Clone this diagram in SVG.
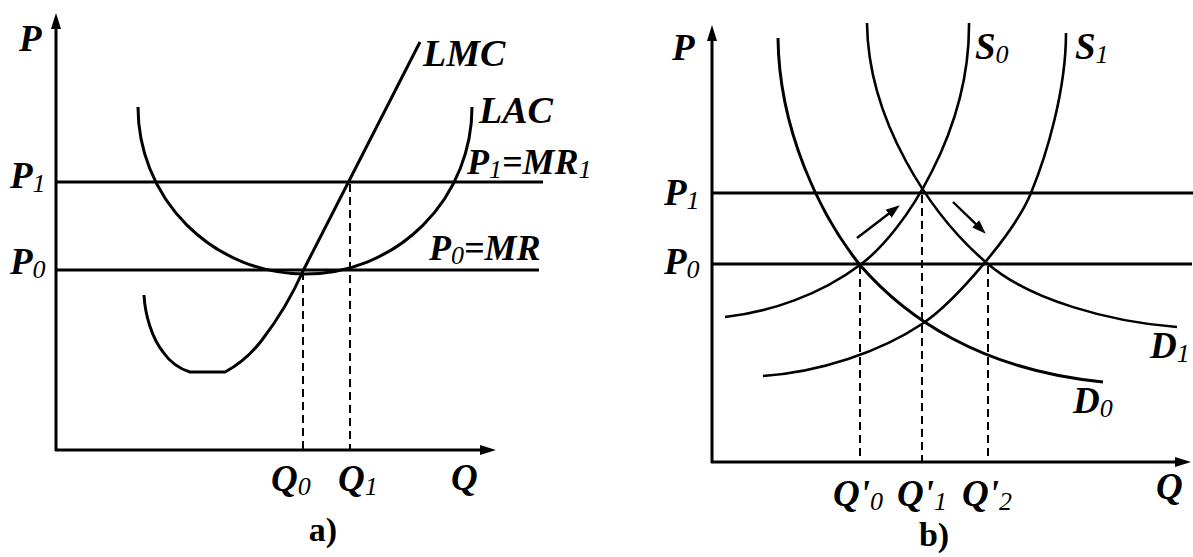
<svg xmlns="http://www.w3.org/2000/svg" width="1193" height="557" viewBox="0 0 1193 557">
<style>
.bg{fill:#fff}
.ax{stroke:#000;stroke-width:3;fill:none}
.ln{stroke:#000;stroke-width:3;fill:none}
.cv{stroke:#000;stroke-width:2.6;fill:none;stroke-linecap:butt}
.ds{stroke:#000;stroke-width:2;fill:none;stroke-dasharray:8 5}
.ar{stroke:#000;stroke-width:2.4;fill:none}
text{font-family:"Liberation Serif","Times New Roman",serif;font-style:italic;font-weight:bold;font-size:37px;fill:#000}
.sub{font-size:26px;font-weight:normal}
.cap{font-style:normal;font-weight:bold;font-size:34px}
</style>
<defs>
<marker id="axh" markerUnits="userSpaceOnUse" markerWidth="16" markerHeight="10" refX="6" refY="5" orient="auto"><path d="M0,0 L16,5 L0,10 z" fill="#000"/></marker>
<marker id="sh" markerUnits="userSpaceOnUse" markerWidth="15" markerHeight="11" refX="5" refY="5.5" orient="auto"><path d="M0,0.5 L14,5.5 L0,10.5 z" fill="#000"/></marker>
</defs>
<rect class="bg" x="0" y="0" width="1193" height="557"/>

<g id="panel-a">
 <g id="a-axes">
  <line class="ax" x1="56" y1="451" x2="56" y2="23" marker-end="url(#axh)"/>
  <line class="ax" x1="55" y1="450" x2="486" y2="450" marker-end="url(#axh)"/>
 </g>
 <g id="a-lines">
  <line class="ln" x1="56" y1="182" x2="543" y2="182"/>
  <line class="ln" x1="56" y1="270" x2="539" y2="270"/>
  <path class="ln" d="M138,107 A167,167 0 0 0 472,107"/>
  <path class="ln" d="M144,295 C145,315 152,338 163,352 C170,362 180,369 190,372 L225,372 C240,364 252,353 262,340 C275,323 292,296 303,271 L420,42"/>
  <line class="ds" x1="303" y1="272" x2="303" y2="449"/>
  <line class="ds" x1="350" y1="184" x2="350" y2="449"/>
 </g>
 <g id="a-labels">
  <text x="19" y="51">P</text>
  <text x="10" y="188">P<tspan class="sub" dy="4">1</tspan></text>
  <text x="10" y="274">P<tspan class="sub" dy="4">0</tspan></text>
  <text x="423" y="66" style="font-size:38px">LMC</text>
  <text x="479" y="123" style="font-size:38px">LAC</text>
  <text x="467" y="174" style="font-size:36px">P<tspan class="sub" dy="4">1</tspan><tspan dy="-4">=MR</tspan><tspan class="sub" dy="4">1</tspan></text>
  <text x="429" y="260" style="font-size:36px">P<tspan class="sub" dy="4">0</tspan><tspan dy="-4">=MR</tspan></text>
  <text x="271" y="491">Q<tspan class="sub" dy="4">0</tspan></text>
  <text x="338" y="491">Q<tspan class="sub" dy="4">1</tspan></text>
  <text x="451" y="490">Q</text>
  <text class="cap" x="323" y="541" text-anchor="middle">a)</text>
 </g>
</g>

<g id="panel-b">
 <g id="b-axes">
  <line class="ax" x1="712" y1="463" x2="712" y2="35" marker-end="url(#axh)"/>
  <line class="ax" x1="711" y1="462" x2="1181" y2="462" marker-end="url(#axh)"/>
 </g>
 <g id="b-lines">
  <line class="ln" x1="712" y1="193" x2="1193" y2="193"/>
  <line class="ln" x1="712" y1="264" x2="1192" y2="264"/>
  <path id="D0" class="cv" d="M778,38 C779,130 820,215 860,265 C905,317 980,370 1103,382" style="stroke-width:3"/>
  <path id="D1" class="cv" d="M867,23 C868,120 930,215 988,264 C1030,300 1110,322 1177,327"/>
  <path id="S0" class="cv" d="M725,317 C770,312 820,295 860,265 C905,232 970,130 969,23"/>
  <path id="S1" class="cv" d="M763,376 C820,372 880,352 922,324 C955,302 1015,232 1031,193 C1047,154 1066,90 1066,33"/>
  <line class="ds" x1="860" y1="266" x2="860" y2="461"/>
  <line class="ds" x1="922" y1="195" x2="922" y2="461"/>
  <line class="ds" x1="988" y1="266" x2="988" y2="461"/>
 </g>
 <g id="b-arrows">
  <line class="ar" x1="857" y1="238" x2="892.6" y2="210.8" marker-end="url(#sh)"/>
  <line class="ar" x1="953" y1="202" x2="979.3" y2="227.4" marker-end="url(#sh)"/>
 </g>
 <g id="b-labels">
  <text x="672" y="60">P</text>
  <text x="664" y="205">P<tspan class="sub" dy="4">1</tspan></text>
  <text x="664" y="274">P<tspan class="sub" dy="4">0</tspan></text>
  <text x="975" y="59">S<tspan class="sub" dy="4">0</tspan></text>
  <text x="1075" y="59">S<tspan class="sub" dy="4">1</tspan></text>
  <text x="1150" y="358">D<tspan class="sub" dy="4">1</tspan></text>
  <text x="1073" y="413">D<tspan class="sub" dy="4">0</tspan></text>
  <text x="833" y="506">Q'<tspan class="sub" dy="4">0</tspan></text>
  <text x="897" y="506">Q'<tspan class="sub" dy="4">1</tspan></text>
  <text x="962" y="506">Q'<tspan class="sub" dy="4">2</tspan></text>
  <text x="1156" y="499">Q</text>
  <text class="cap" x="934" y="546" text-anchor="middle">b)</text>
 </g>
</g>
</svg>
